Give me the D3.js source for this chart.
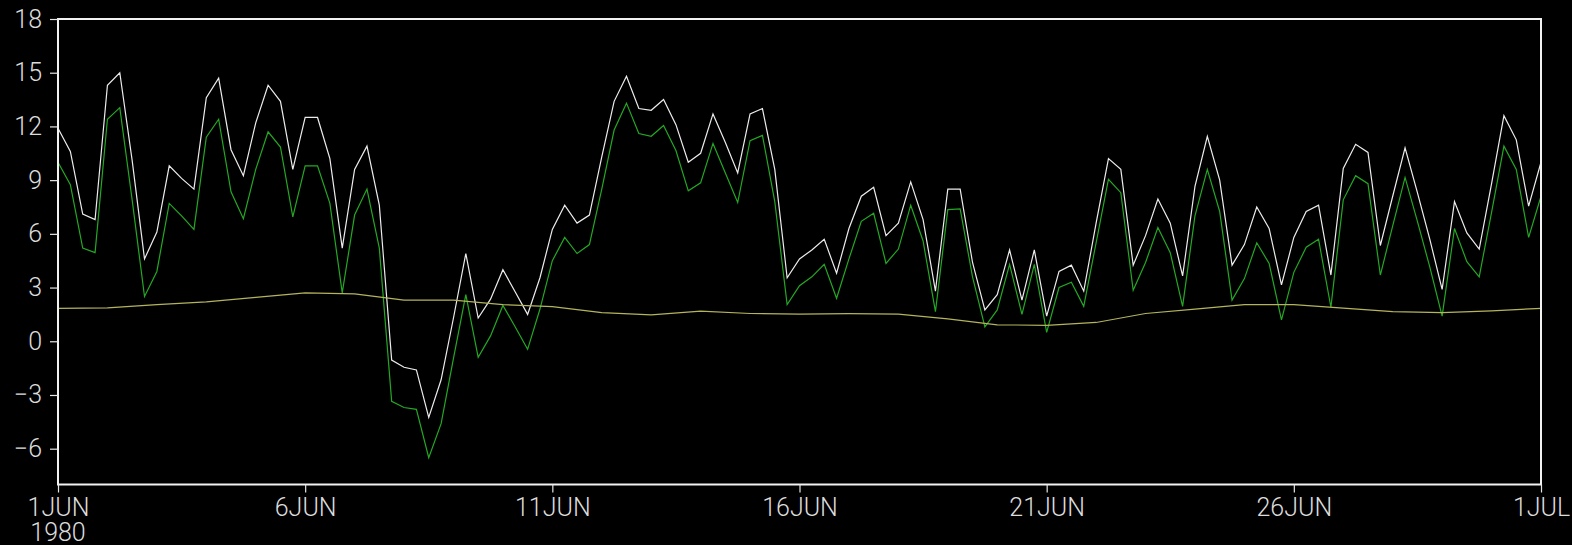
<!DOCTYPE html>
<html>
<head>
<meta charset="utf-8">
<script src="https://cdn.jsdelivr.net/npm/d3@7"></script>
<style>
  html, body { margin: 0; padding: 0; background: #000; }
  svg { display: block; }
  text { font-family: Roboto, "Liberation Sans", sans-serif; font-weight: 300; }
</style>
</head>
<body>
<svg id="chart" width="1572" height="545"></svg>
<script>
// 6-hourly air temperature (white) and dew point (green), 1 Jun 00Z – 1 Jul 00Z 1980
const temperature = [
  11.9, 10.6, 7.1, 6.8, 14.3, 15.0, 10.1, 4.6, 6.1, 9.8,
  9.1, 8.5, 13.6, 14.7, 10.7, 9.25, 12.2, 14.3, 13.4, 9.6,
  12.5, 12.5, 10.2, 5.2, 9.6, 10.9, 7.6, -1.05, -1.45, -1.6,
  -4.25, -2.15, 1.3, 4.9, 1.3, 2.35, 4.0, 2.75, 1.5, 3.55,
  6.25, 7.6, 6.6, 7.05, 10.3, 13.4, 14.8, 13.0, 12.9, 13.5,
  12.1, 10.0, 10.5, 12.7, 11.1, 9.4, 12.7, 13.0, 9.6, 3.55,
  4.6, 5.1, 5.7, 3.8, 6.3, 8.1, 8.6, 5.9, 6.6, 8.9,
  6.8, 2.8, 8.5, 8.5, 4.4, 1.75, 2.6, 5.1, 2.3, 5.1,
  1.4, 3.9, 4.25, 2.8, 6.6, 10.2, 9.6, 4.25, 5.9, 7.95,
  6.6, 3.65, 8.65, 11.45, 9.0, 4.25, 5.4, 7.5, 6.3, 3.15,
  5.8, 7.25, 7.6, 3.7, 9.65, 11.0, 10.55, 5.35, 8.1, 10.8,
  8.3, 5.7, 2.9, 7.8, 6.05, 5.15, 8.8, 12.6, 11.25, 7.55,
  10.0
];

const dewPoint = [
  10.0, 8.75, 5.2, 4.95, 12.4, 13.05, 7.9, 2.5, 3.9, 7.7,
  7.0, 6.25, 11.4, 12.4, 8.35, 6.85, 9.6, 11.7, 10.85, 6.95,
  9.8, 9.8, 7.7, 2.7, 7.05, 8.5, 5.2, -3.35, -3.7, -3.8,
  -6.5, -4.6, -0.95, 2.6, -0.9, 0.3, 2.0, 0.8, -0.45, 1.8,
  4.5, 5.8, 4.9, 5.4, 8.5, 11.8, 13.3, 11.6, 11.45, 12.05,
  10.65, 8.4, 8.85, 11.05, 9.4, 7.75, 11.2, 11.5, 7.8, 2.05,
  3.1, 3.6, 4.3, 2.4, 4.6, 6.7, 7.15, 4.35, 5.15, 7.6,
  5.6, 1.65, 7.35, 7.4, 3.6, 0.8, 1.75, 4.3, 1.5, 4.3,
  0.5, 3.0, 3.3, 1.95, 5.5, 9.05, 8.3, 2.85, 4.4, 6.35,
  4.95, 1.95, 7.0, 9.6, 7.25, 2.3, 3.5, 5.5, 4.35, 1.2,
  3.85, 5.25, 5.7, 1.9, 7.9, 9.25, 8.8, 3.7, 6.45, 9.15,
  6.7, 4.15, 1.4, 6.3, 4.45, 3.6, 7.2, 10.9, 9.6, 5.8,
  8.1
];

// Daily slowly varying field (olive), one value per day at 00Z
const dailyMean = [
  1.84, 1.87, 2.05, 2.2, 2.45, 2.7, 2.65, 2.3, 2.3, 2.05,
  1.93, 1.6, 1.47, 1.68, 1.55, 1.52, 1.54, 1.52, 1.25, 0.92,
  0.89, 1.05, 1.55, 1.8, 2.05, 2.05, 1.85, 1.66, 1.6, 1.7,
  1.84
];

const yTicks = [-6, -3, 0, 3, 6, 9, 12, 15, 18];
const yTickLabels = ["\u22126", "\u22123", "0", "3", "6", "9", "12", "15", "18"];
const xTickDays = [1, 6, 11, 16, 21, 26, 31];
const xTickLabels = ["1JUN", "6JUN", "11JUN", "16JUN", "21JUN", "26JUN", "1JUL"];
const yearLabel = "1980";

(function () {
  const start = Date.UTC(1980, 5, 1);
  const HOUR = 3600 * 1000;

  const svg = d3.select("#chart");
  const plotL = 58, plotR = 1541, plotT = 19, plotB = 484.5;

  const x = d3.scaleUtc()
    .domain([new Date(start), new Date(Date.UTC(1980, 6, 1))])
    .range([plotL, plotR]);
  const y = d3.scaleLinear().domain([-8, 18]).range([plotB, plotT]);

  const sixHourly = v => v.map((val, i) => ({ t: new Date(start + i * 6 * HOUR), v: val }));
  const daily = v => v.map((val, i) => ({ t: new Date(start + i * 24 * HOUR), v: val }));

  const line = d3.line().x(d => x(d.t)).y(d => y(d.v));

  const plot = svg.append("g");
  plot.append("path").datum(sixHourly(temperature))
    .attr("d", line).attr("fill", "none")
    .attr("stroke", "#ececec").attr("stroke-width", 1.2);
  plot.append("path").datum(sixHourly(dewPoint))
    .attr("d", line).attr("fill", "none")
    .attr("stroke", "#24a824").attr("stroke-width", 1.2);
  plot.append("path").datum(daily(dailyMean))
    .attr("d", line).attr("fill", "none")
    .attr("stroke", "#b4b45c").attr("stroke-width", 1.2);

  // Frame
  svg.append("rect")
    .attr("x", plotL).attr("y", plotT)
    .attr("width", plotR - plotL).attr("height", plotB - plotT)
    .attr("fill", "none").attr("stroke", "#f2f2f2").attr("stroke-width", 2);

  const styleText = sel => sel
    .attr("fill", "#dcdcdc")
    .attr("font-size", 25)
    .attr("font-family", "Roboto, 'Liberation Sans', sans-serif")
    .attr("font-weight", 300);

  // Y axis
  const yAxis = d3.axisLeft(y)
    .tickValues(yTicks)
    .tickSize(8)
    .tickPadding(8)
    .tickFormat((d, i) => yTickLabels[i]);
  const gy = svg.append("g").attr("transform", `translate(${plotL},0)`).call(yAxis);
  gy.select(".domain").remove();
  gy.selectAll(".tick line").attr("stroke", "#e6e6e6").attr("stroke-width", 1.2);
  gy.selectAll(".tick text").call(styleText);

  // X axis
  const xAxis = d3.axisBottom(x)
    .tickValues(xTickDays.map(d => new Date(start + (d - 1) * 24 * HOUR)))
    .tickSize(8)
    .tickFormat((d, i) => xTickLabels[i]);
  const gx = svg.append("g").attr("transform", `translate(0,${plotB})`).call(xAxis);
  gx.select(".domain").remove();
  gx.selectAll(".tick line").attr("stroke", "#e6e6e6").attr("stroke-width", 1.2);
  gx.selectAll(".tick text").call(styleText)
    .attr("y", 31.5)
    .attr("dy", null);

  svg.append("text")
    .attr("x", x(new Date(start)))
    .attr("y", 541)
    .attr("text-anchor", "middle")
    .call(styleText)
    .text(yearLabel);
})();
</script>
</body>
</html>
